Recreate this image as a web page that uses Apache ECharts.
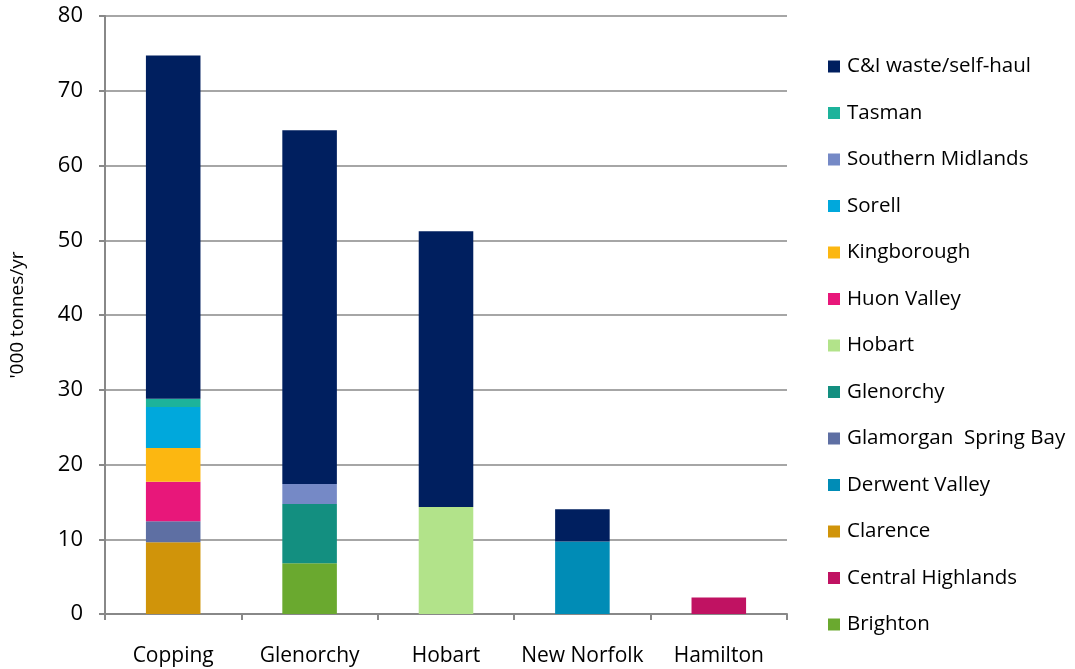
<!DOCTYPE html>
<html>
<head>
<meta charset="utf-8">
<script src="https://cdn.jsdelivr.net/npm/echarts@6/dist/echarts.min.js"></script>
<style>
  html, body { margin: 0; padding: 0; background: #fff; }
  #chart { width: 1075px; height: 669px; }
</style>
</head>
<body>
<div id="chart"></div>
<script>
// Destination of waste, '000 tonnes per year, by landfill site
const sites = ['Copping', 'Glenorchy', 'Hobart', 'New Norfolk', 'Hamilton'];

// Source councils, listed from the bottom of each stack upward
const brighton          = [null, 6.8,  null, null, null];
const centralHighlands  = [null, null, null, null, 2.2];
const clarence          = [9.6,  null, null, null, null];
const derwentValley     = [null, null, null, 9.7,  null];
const glamorganSpringBay= [2.8,  null, null, null, null];
const glenorchy         = [null, 7.9,  null, null, null];
const hobart            = [null, null, 14.3, null, null];
const huonValley        = [5.3,  null, null, null, null];
const kingborough       = [4.5,  null, null, null, null];
const sorell            = [5.5,  null, null, null, null];
const southernMidlands  = [null, 2.7,  null, null, null];
const tasman            = [1.1,  null, null, null, null];
const ciWaste           = [45.9, 47.3, 36.9, 4.3,  null];

const yTicks = { min: 0, max: 80, interval: 10 };

const seriesDefs = [
  ['Brighton', brighton, '#6AA92F'],
  ['Central Highlands', centralHighlands, '#C01262'],
  ['Clarence', clarence, '#D0940A'],
  ['Derwent Valley', derwentValley, '#008CB6'],
  ['Glamorgan  Spring Bay', glamorganSpringBay, '#5E6FA3'],
  ['Glenorchy', glenorchy, '#138F80'],
  ['Hobart', hobart, '#B2E38A'],
  ['Huon Valley', huonValley, '#E8177A'],
  ['Kingborough', kingborough, '#FCB711'],
  ['Sorell', sorell, '#00A8DC'],
  ['Southern Midlands', southernMidlands, '#7589C6'],
  ['Tasman', tasman, '#1DB39B'],
  ['C&I waste/self-haul', ciWaste, '#001F5F']
];

const font = "'Open Sans', 'Noto Sans', sans-serif";

const chart = echarts.init(document.getElementById('chart'), null, { renderer: 'canvas' });

chart.setOption({
  animation: false,
  backgroundColor: '#ffffff',
  textStyle: { fontFamily: font, color: '#000' },
  grid: { left: 104, right: 288, top: 16, bottom: 55, containLabel: false },
  legend: {
    orient: 'vertical',
    left: 823,
    top: 51,
    itemWidth: 12,
    itemHeight: 12,
    itemGap: 25.5,
    icon: 'rect',
    data: seriesDefs.map(d => d[0]).reverse(),
    textStyle: { fontFamily: font, fontSize: 20.5, color: '#000', lineHeight: 20, padding: [0, 0, 0, 2] }
  },
  xAxis: {
    type: 'category',
    data: sites,
    axisLine: { lineStyle: { color: '#888', width: 2 } },
    axisTick: { show: true, interval: 0, length: 6, lineStyle: { color: '#888', width: 2 } },
    axisLabel: { interval: 0, fontSize: 21, color: '#000', margin: 32, fontFamily: font }
  },
  yAxis: {
    type: 'value',
    min: yTicks.min,
    max: yTicks.max,
    interval: yTicks.interval,
    name: "'000 tonnes/yr",
    nameLocation: 'middle',
    nameGap: 78,
    nameRotate: 90,
    nameTextStyle: { fontSize: 19, color: '#000', fontFamily: font },
    axisLine: { show: true, lineStyle: { color: '#888', width: 2 } },
    axisTick: { show: true, length: 6, lineStyle: { color: '#888', width: 2 } },
    splitLine: { lineStyle: { color: '#A6A6A6', width: 2 } },
    axisLabel: { fontSize: 22, color: '#000', margin: 22, fontFamily: font }
  },
  series: seriesDefs.map(([name, data, color]) => ({
    name,
    type: 'bar',
    stack: 'total',
    barWidth: '40%',
    data,
    itemStyle: { color },
    emphasis: { disabled: true }
  }))
});
</script>
</body>
</html>
